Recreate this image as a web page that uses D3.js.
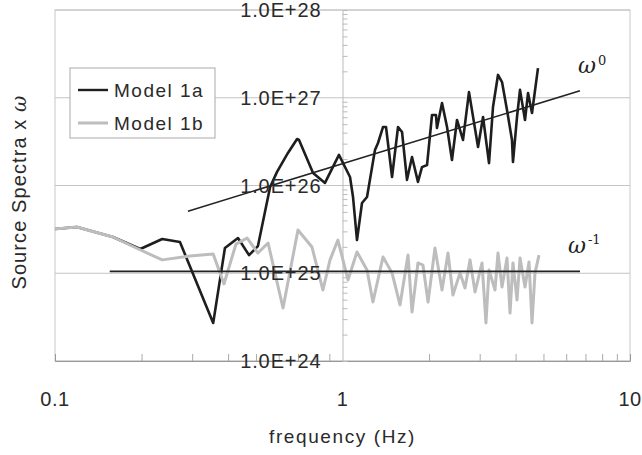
<!DOCTYPE html>
<html>
<head>
<meta charset="utf-8">
<script src="https://cdn.jsdelivr.net/npm/d3@7"></script>
<style>
  html, body { margin: 0; padding: 0; background: #fff; }
  svg { display: block; }
  text { font-family: "Liberation Sans", Arial, sans-serif; fill: #2a2a2a; }
</style>
</head>
<body>
<svg id="chart" width="642" height="455"></svg>
<script>
// Source spectra (multiplied by omega) versus frequency, two models.
const freq1a = [0.100, 0.119, 0.159, 0.198, 0.236, 0.272, 0.355, 0.390, 0.433, 0.473,
  0.508, 0.560, 0.592, 0.646, 0.695, 0.706, 0.790, 0.869, 0.972, 1.062,
  1.088, 1.123, 1.169, 1.217, 1.297, 1.329, 1.383, 1.417, 1.487, 1.560,
  1.611, 1.676, 1.745, 1.830, 1.890, 1.968, 2.048, 2.114, 2.131, 2.219,
  2.310, 2.403, 2.502, 2.625, 2.754, 2.961, 3.082, 3.233, 3.338, 3.474,
  3.588, 3.734, 3.886, 3.917, 4.046, 4.144, 4.313, 4.419, 4.562, 4.786];
const spec1a = [3.19e25, 3.37e25, 2.59e25, 1.89e25, 2.46e25, 2.27e25, 2.71e24, 1.94e25, 2.52e25, 1.61e25,
  2.04e25, 9.62e25, 1.43e26, 2.35e26, 3.39e26, 3.30e26, 1.39e26, 1.07e26, 2.23e26, 1.25e26,
  7.39e25, 2.39e25, 6.32e25, 7.39e25, 2.54e26, 3.05e26, 4.64e26, 4.64e26, 1.25e26, 4.64e26,
  4.07e26, 1.16e26, 2.11e26, 1.10e26, 1.62e26, 1.71e26, 6.36e26, 6.36e26, 4.52e26, 8.71e26,
  4.64e26, 1.95e26, 5.58e26, 3.30e26, 1.16e27, 2.75e26, 6.04e26, 1.80e26, 7.85e26, 1.82e27,
  1.51e27, 7.25e26, 3.30e26, 1.85e26, 6.04e26, 1.23e27, 5.58e26, 1.13e27, 6.70e26, 2.18e27];

const freq1b = [0.100, 0.119, 0.159, 0.195, 0.236, 0.295, 0.355, 0.387, 0.426, 0.466,
  0.508, 0.551, 0.621, 0.700, 0.783, 0.855, 0.905, 0.964, 1.045, 1.123,
  1.217, 1.276, 1.383, 1.487, 1.585, 1.690, 1.745, 1.830, 1.905, 1.984,
  2.097, 2.219, 2.328, 2.422, 2.563, 2.668, 2.777, 2.891, 3.057, 3.155,
  3.233, 3.392, 3.474, 3.588, 3.734, 3.825, 3.917, 4.046, 4.144, 4.313,
  4.454, 4.562, 4.673, 4.825];
const spec1b = [3.19e25, 3.37e25, 2.59e25, 1.89e25, 1.42e25, 1.57e25, 1.66e25, 7.55e24, 2.15e25, 2.52e25,
  1.70e25, 2.21e25, 4.02e24, 3.11e25, 1.99e25, 6.44e24, 1.42e25, 2.39e25, 8.38e24, 1.75e25,
  1.09e25, 4.70e24, 1.53e25, 1.01e25, 4.35e24, 1.61e25, 3.62e24, 1.31e25, 1.24e25, 4.70e24,
  1.94e25, 6.44e24, 1.70e25, 5.65e24, 1.01e25, 6.79e24, 1.42e25, 6.11e24, 1.31e25, 2.71e24,
  1.09e25, 6.44e24, 1.70e25, 6.97e24, 1.49e25, 3.52e24, 1.31e25, 4.96e24, 1.49e25, 6.97e24,
  1.34e25, 2.71e24, 1.01e25, 1.61e25];

// Reference slopes: omega^0 and omega^-1 source spectra
const refW0Freq = [0.29, 6.7];
const refW0Spec = [5.1e25, 1.2e27];
const refW1Freq = [0.155, 6.7];
const refW1Spec = [1.05e25, 1.05e25];

const xTicks = [0.1, 1, 10];
const xTickLabels = ["0.1", "1", "10"];
const yTicks = [1e24, 1e25, 1e26, 1e27, 1e28];
const yTickLabels = ["1.0E+24", "1.0E+25", "1.0E+26", "1.0E+27", "1.0E+28"];
const seriesNames = ["Model 1a", "Model 1b"];

const svg = d3.select("#chart");
const plotLeft = 55, plotRight = 630, plotTop = 10, plotBottom = 361;

const x = d3.scaleLog().domain([0.1, 10]).range([plotLeft, plotRight]);
const y = d3.scaleLog().domain([1e24, 1e28]).range([plotBottom, plotTop]);

// plot frame
svg.append("rect")
  .attr("x", plotLeft).attr("y", plotTop)
  .attr("width", plotRight - plotLeft).attr("height", plotBottom - plotTop)
  .attr("fill", "none").attr("stroke", "#c8c8c8").attr("stroke-width", 1);

// horizontal gridlines at each decade
svg.append("g").selectAll("line").data(yTicks).join("line")
  .attr("x1", plotLeft).attr("x2", plotRight)
  .attr("y1", d => y(d)).attr("y2", d => y(d))
  .attr("stroke", "#c4c4c4").attr("stroke-width", 1);

// bottom axis with minor ticks pointing inward
const xMinor = [];
[0.1, 1].forEach(d => { for (let k = 2; k <= 9; k++) xMinor.push(d * k); });
svg.append("g")
  .attr("transform", `translate(0,${plotBottom})`)
  .call(d3.axisBottom(x).tickValues(xMinor).tickSize(-7).tickFormat(""))
  .call(g => g.select(".domain").attr("stroke", "#999"))
  .call(g => g.selectAll(".tick line").attr("stroke", "#aaa"));

// vertical axis crossing at 1 Hz, minor ticks to the right
const yMinor = [];
[1e24, 1e25, 1e26, 1e27].forEach(d => { for (let k = 2; k <= 9; k++) yMinor.push(d * k); });
svg.append("g")
  .attr("transform", `translate(${x(1)},0)`)
  .call(d3.axisRight(y).tickValues(yMinor).tickSize(5).tickFormat(""))
  .call(g => g.select(".domain").attr("stroke", "#bbb"))
  .call(g => g.selectAll(".tick line").attr("stroke", "#bbb"));

// series
const line = d3.line().x(d => x(d[0])).y(d => y(d[1]));
const pts1a = freq1a.map((f, i) => [f, spec1a[i]]);
const pts1b = freq1b.map((f, i) => [f, spec1b[i]]);

svg.append("path").datum(pts1a).attr("d", line)
  .attr("fill", "none").attr("stroke", "#1e1e1e").attr("stroke-width", 2.6)
  .attr("stroke-linejoin", "round");
svg.append("path").datum(pts1b).attr("d", line)
  .attr("fill", "none").attr("stroke", "#bdbdbd").attr("stroke-width", 3)
  .attr("stroke-linejoin", "round");

// reference slope lines
svg.append("path").datum(refW0Freq.map((f, i) => [f, refW0Spec[i]])).attr("d", line)
  .attr("fill", "none").attr("stroke", "#222").attr("stroke-width", 1.5);
svg.append("path").datum(refW1Freq.map((f, i) => [f, refW1Spec[i]])).attr("d", line)
  .attr("fill", "none").attr("stroke", "#222").attr("stroke-width", 1.7);

// slope annotations
const w0 = svg.append("text")
  .attr("x", x(refW0Freq[1]) - 2).attr("y", y(refW0Spec[1]) - 18)
  .style("font-family", "'DejaVu Serif', serif").style("font-style", "italic")
  .style("font-size", "22px").style("fill", "#222");
w0.append("tspan").text("ω");
w0.append("tspan").attr("dy", -8).attr("dx", 2).style("font-size", "13px").style("font-style", "normal").text("0");

const w1 = svg.append("text")
  .attr("x", x(refW1Freq[1]) - 12).attr("y", y(refW1Spec[1]) - 18)
  .style("font-family", "'DejaVu Serif', serif").style("font-style", "italic")
  .style("font-size", "22px").style("fill", "#222");
w1.append("tspan").text("ω");
w1.append("tspan").attr("dy", -9).attr("dx", 2).style("font-size", "13px").style("font-style", "normal").text("-1");

// y tick labels, sitting on the gridlines left of the 1 Hz axis
svg.append("g").selectAll("text").data(yTicks).join("text")
  .attr("x", x(1) - 21).attr("y", d => y(d))
  .attr("dy", "0.36em").attr("text-anchor", "end")
  .style("font-size", "20px").style("letter-spacing", "0.9px")
  .text((d, i) => yTickLabels[i]);

// x tick labels
svg.append("g").selectAll("text").data(xTicks).join("text")
  .attr("x", d => x(d)).attr("y", 406)
  .attr("text-anchor", "middle")
  .style("font-size", "20px").style("letter-spacing", "0.5px")
  .text((d, i) => xTickLabels[i]);

// axis titles
svg.append("text")
  .attr("x", x(1)).attr("y", 443)
  .attr("text-anchor", "middle")
  .style("font-size", "19px").style("letter-spacing", "1.6px")
  .text("frequency (Hz)");

const yt = svg.append("text")
  .attr("transform", "translate(26,192) rotate(-90)")
  .attr("text-anchor", "middle")
  .style("font-size", "20px").style("letter-spacing", "1.1px");
yt.append("tspan").text("Source Spectra x ");
yt.append("tspan").style("font-family", "'DejaVu Serif', serif").style("font-style", "italic").text("ω");

// legend
const lg = svg.append("g");
lg.append("rect").attr("x", 70).attr("y", 68).attr("width", 145).attr("height", 70)
  .attr("fill", "#fff").attr("stroke", "#aaa").attr("stroke-width", 1);
const legendColors = ["#1e1e1e", "#bdbdbd"];
const legendWidths = [2.4, 3];
seriesNames.forEach((name, i) => {
  const cy = 90 + i * 33;
  lg.append("line").attr("x1", 78).attr("x2", 108).attr("y1", cy).attr("y2", cy)
    .attr("stroke", legendColors[i]).attr("stroke-width", legendWidths[i]);
  lg.append("text").attr("x", 114).attr("y", cy).attr("dy", "0.36em")
    .style("font-size", "19px").style("letter-spacing", "1.5px")
    .text(name);
});
</script>
</body>
</html>
